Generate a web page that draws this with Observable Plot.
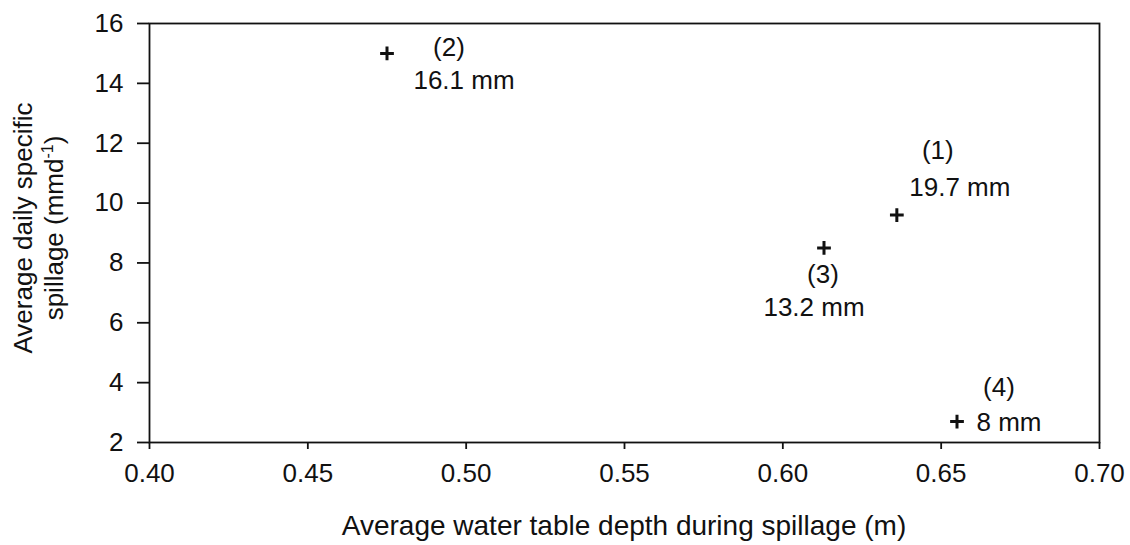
<!DOCTYPE html>
<html>
<head>
<meta charset="utf-8">
<script src="https://cdn.jsdelivr.net/npm/d3@7"></script>
<script src="https://cdn.jsdelivr.net/npm/@observablehq/plot@0.6"></script>
<style>
  body { margin: 0; background: #fff; }
  svg { font-family: "Liberation Sans", Arial, sans-serif; }
</style>
</head>
<body>
<div id="chart"></div>
<script>
// Data
const sites = ["(1)", "(2)", "(3)", "(4)"];
const depth = [0.636, 0.475, 0.613, 0.655];      // Average water table depth (m)
const spillage = [9.6, 15.0, 8.5, 2.7];          // Average daily specific spillage (mm/d)
const totals = ["19.7 mm", "16.1 mm", "13.2 mm", "8 mm"];
const xTicks = [0.40, 0.45, 0.50, 0.55, 0.60, 0.65, 0.70];
const yTicks = [2, 4, 6, 8, 10, 12, 14, 16];

const data = sites.map((s, i) => ({site: s, x: depth[i], y: spillage[i], total: totals[i]}));

// label offsets (pixels) per point: [siteDx, siteDy, totalDx, totalDy]
const offsets = [
  [41, -64, 63, -27],
  [62, -6, 77, 27],
  [-1, 27, -10, 60],
  [42, -34, 52, 1]
];

const fs = 26;
const labelMarks = [];
data.forEach((d, i) => {
  const o = offsets[i];
  labelMarks.push(Plot.text([d], {x: "x", y: "y", text: "site", dx: o[0], dy: o[1], fontSize: fs, fill: "#111"}));
  labelMarks.push(Plot.text([d], {x: "x", y: "y", text: "total", dx: o[2], dy: o[3], fontSize: fs, fill: "#111"}));
});

const W = 1130, H = 545;
const mL = 149, mR = 31, mT = 23, mB = 103;

const chart = Plot.plot({
  width: W,
  height: H,
  marginLeft: mL,
  marginRight: mR,
  marginTop: mT,
  marginBottom: mB,
  style: {fontSize: fs + "px", fontFamily: "'Liberation Sans', Arial, sans-serif", color: "#111", background: "#fff"},
  x: {domain: [0.40, 0.70], ticks: xTicks, tickFormat: d3.format(".2f"), label: null},
  y: {domain: [2, 16], ticks: yTicks, label: null},
  marks: [
    Plot.frame({stroke: "#111", strokeWidth: 1.8}),
    Plot.axisX({ticks: xTicks, tickFormat: d3.format(".2f"), tickSize: 7, tickPadding: 14, fontSize: fs, label: null, strokeWidth: 1.8}),
    Plot.axisY({ticks: yTicks, tickSize: 12, tickPadding: 14, fontSize: fs, label: null, strokeWidth: 1.8}),
    Plot.dot(data, {x: "x", y: "y", symbol: "plus", r: 4.5, fill: "none", stroke: "#111", strokeWidth: 3}),
    ...labelMarks
  ]
});

const svg = d3.select(chart);
// x axis title
svg.append("text")
  .attr("x", (mL + W - mR) / 2)
  .attr("y", 535)
  .attr("text-anchor", "middle")
  .attr("font-size", 28)
  .attr("fill", "#111")
  .text("Average water table depth during spillage (m)");

// y axis title (two lines, rotated)
const cy = 228;
const yt = svg.append("g").attr("transform", `translate(0,${cy}) rotate(-90)`);
yt.append("text")
  .attr("x", 0).attr("y", 32)
  .attr("text-anchor", "middle")
  .attr("font-size", fs)
  .attr("fill", "#111")
  .text("Average daily specific");
const l2 = yt.append("text")
  .attr("x", 0).attr("y", 63)
  .attr("text-anchor", "middle")
  .attr("font-size", fs)
  .attr("fill", "#111");
l2.append("tspan").text("spillage (mmd");
l2.append("tspan").attr("font-size", 16).attr("dy", -10).text("-1");
l2.append("tspan").attr("dy", 10).text(")");

document.getElementById("chart").appendChild(chart);
</script>
</body>
</html>
